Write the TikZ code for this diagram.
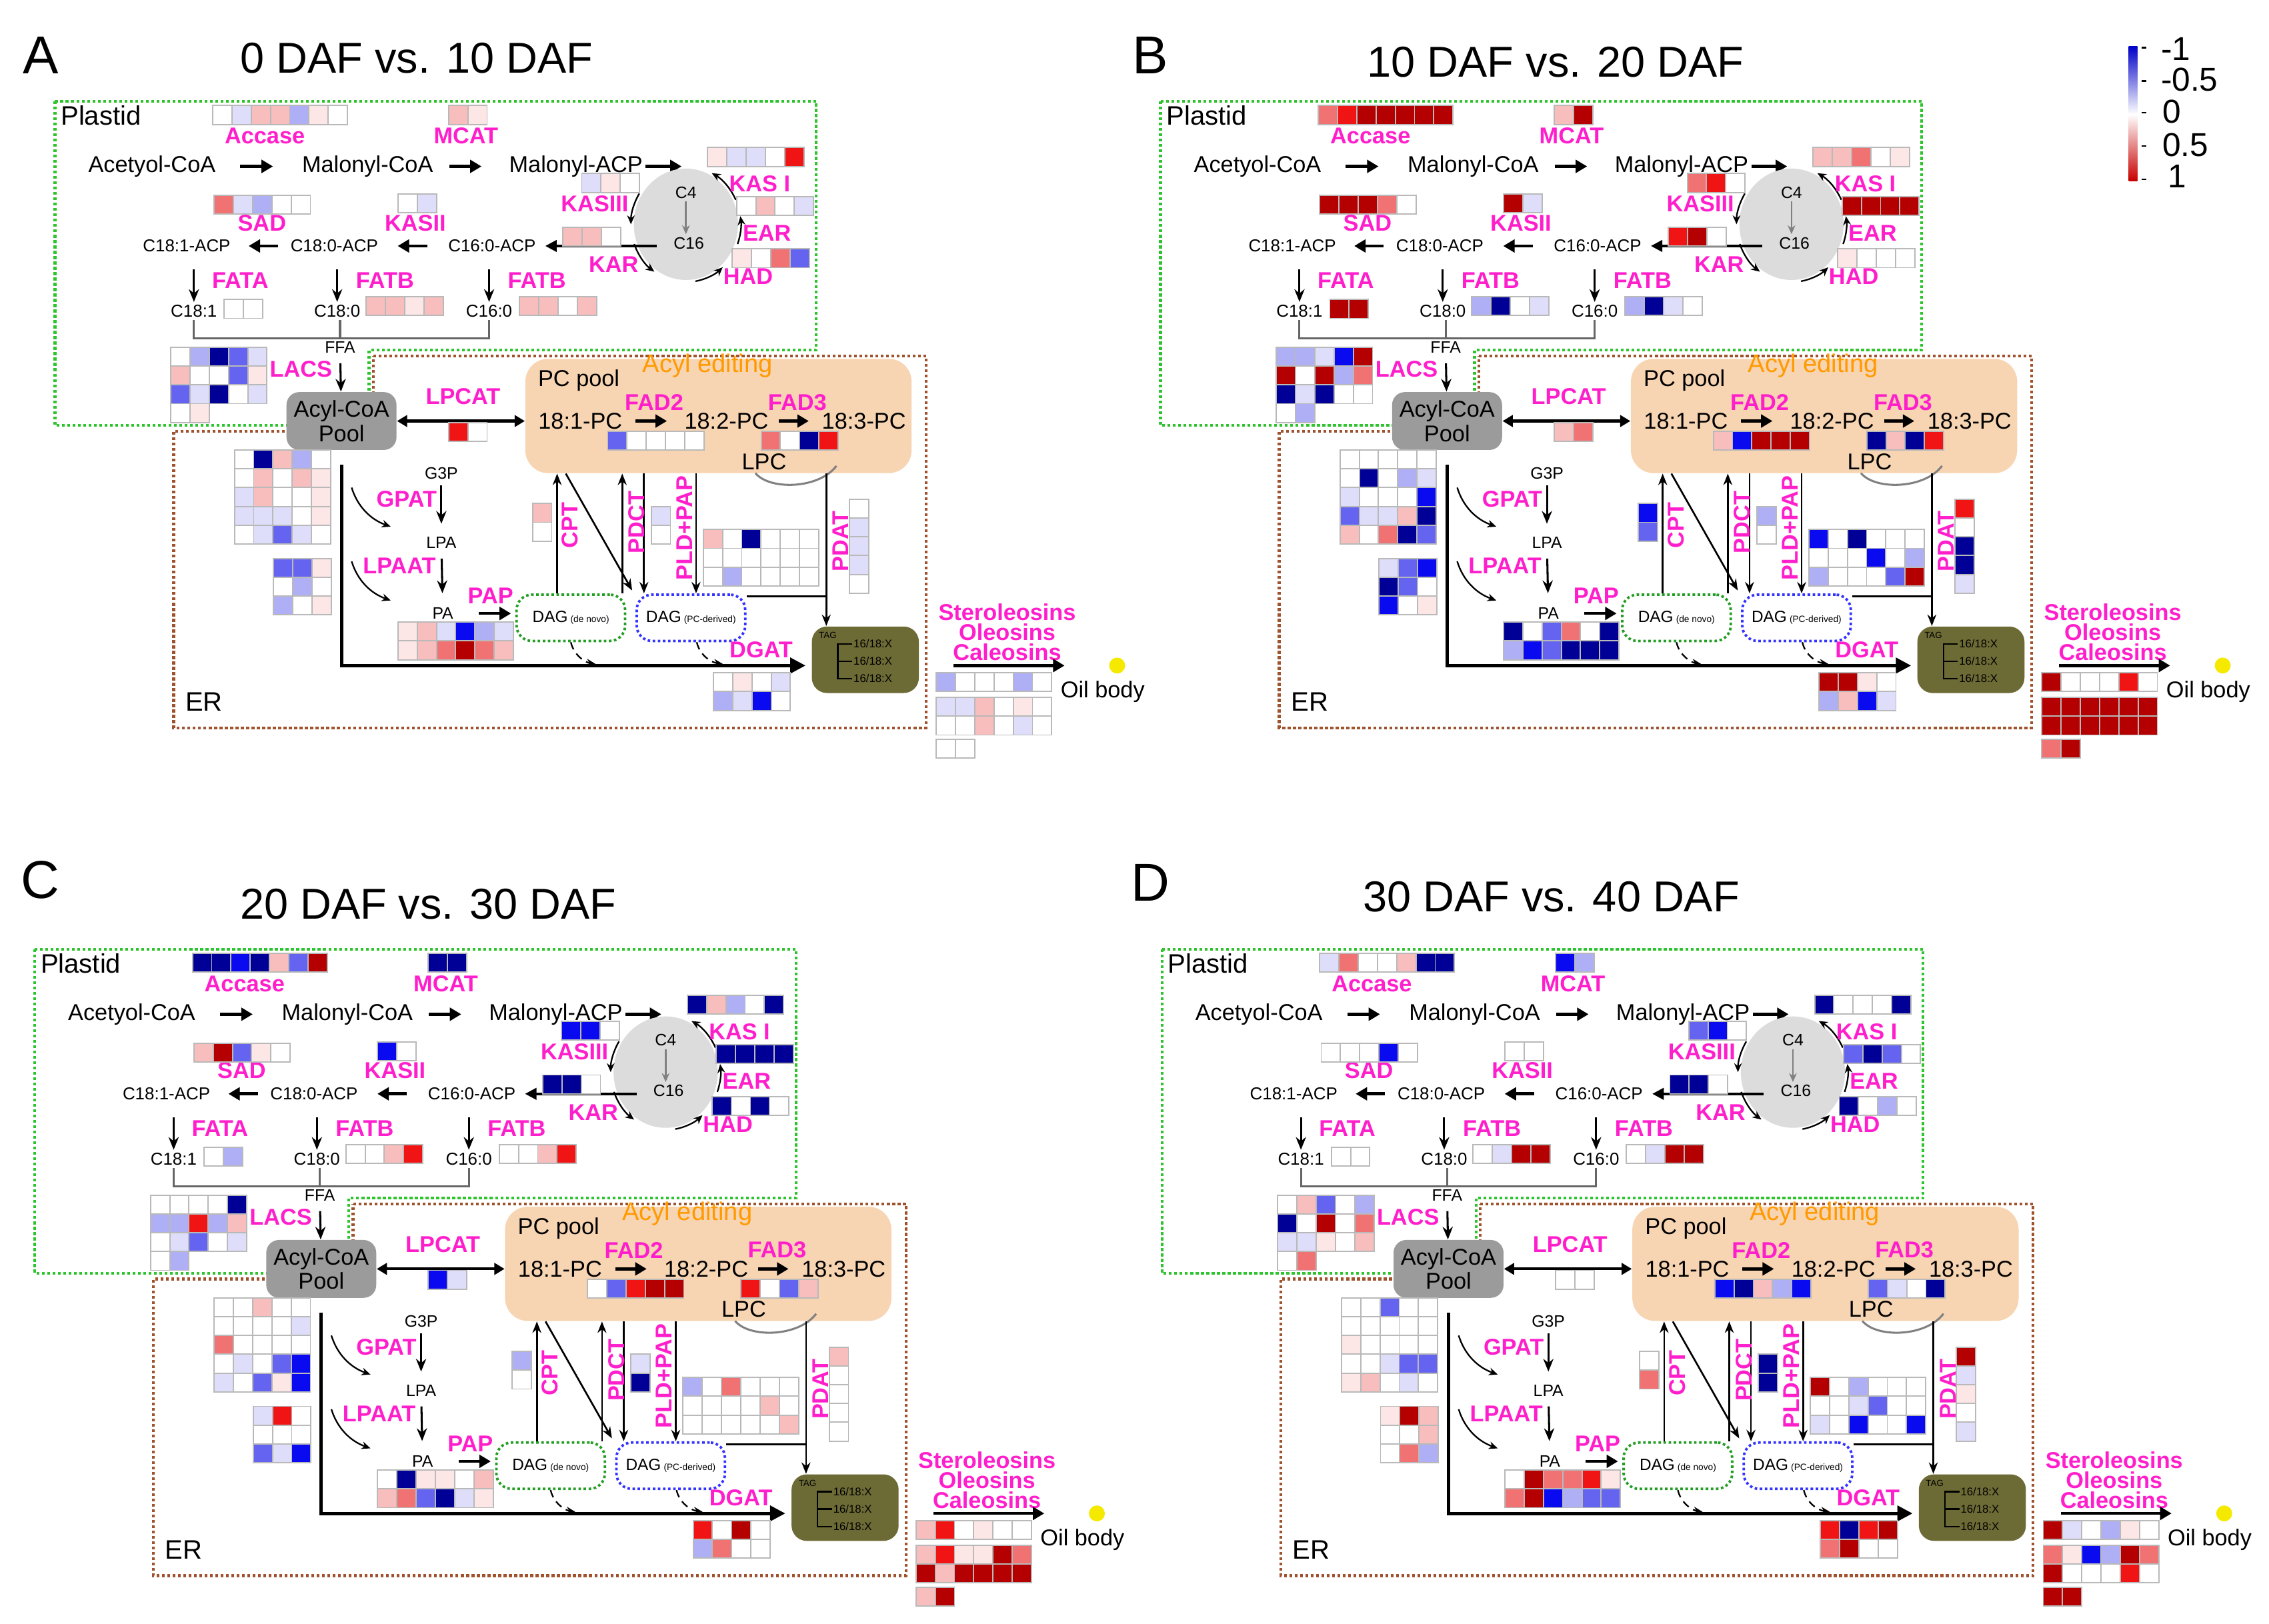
\documentclass[tikz,border=0pt]{standalone}
\usepackage{fontspec}
\setmainfont{Liberation Sans}
\usetikzlibrary{arrows.meta,calc,shapes.geometric}

\definecolor{hN}{HTML}{000096}
\definecolor{hB}{HTML}{0A0AF0}
\definecolor{hM}{HTML}{6464F0}
\definecolor{hL}{HTML}{AFAFF5}
\definecolor{hV}{HTML}{DEDEFA}
\definecolor{hW}{HTML}{FFFFFF}
\definecolor{hv}{HTML}{FCE6E6}
\definecolor{hl}{HTML}{F8BEBE}
\definecolor{hp}{HTML}{F07272}
\definecolor{hr}{HTML}{F01414}
\definecolor{hR}{HTML}{B40000}
\definecolor{mag}{HTML}{FF1ECB}
\definecolor{orng}{HTML}{FF9A00}
\definecolor{grn}{HTML}{2DC42D}
\definecolor{brn}{HTML}{A0522D}
\definecolor{peach}{HTML}{F7D4B2}
\definecolor{olivebox}{HTML}{6D6B35}
\definecolor{poolgray}{HTML}{9B9B9B}
\definecolor{cycgray}{HTML}{DCDCDC}
\definecolor{ylw}{HTML}{F5E900}
\definecolor{legB}{HTML}{0000C8}
\definecolor{legR}{HTML}{C80000}

\newcommand\fsz[1]{\fontsize{#1}{#1}\selectfont}

\tikzset{
  t9/.style={font=\fsz{9}, inner sep=1pt},
  t7/.style={font=\fsz{6.8}, inner sep=1pt},
  t65/.style={font=\fsz{6.5}, inner sep=1pt},
  lab/.style={font=\bfseries\fsz{9}, text=mag, inner sep=1pt},
  arrT/.style={-{Triangle[length=4.5pt,width=5pt]}, line width=1.2pt},
  arrM/.style={-{Triangle[length=4.5pt,width=4.5pt]}, line width=1pt},
  arrD/.style={-{Stealth[length=5pt,width=4pt]}, line width=0.8pt},
  arrV/.style={-{Stealth[length=4.5pt,width=3.5pt]}, line width=0.7pt},
  arrC/.style={-{Stealth[length=3.5pt,width=3pt]}, line width=0.6pt},
  cell/.style={draw=gray!55, line width=0.5pt},
}

\newcommand\hmap[4]{%
  \foreach \hcl [count=\hii from 0] in {#4}{%
    \pgfmathtruncatemacro\hmc{mod(\hii,#3)}%
    \pgfmathtruncatemacro\hmr{(\hii-\hmc)/#3+0.5}%
    \filldraw[cell,fill=h\hcl] ({#1+\hmc*13.3},{#2+\hmr*13}) rectangle ++(13.3,13);
  }%
}
\newcommand\hAcc[1]{\hmap{147}{73}{7}{#1}}
\newcommand\hMCAT[1]{\hmap{310}{73}{2}{#1}}
\newcommand\hKASI[1]{\hmap{489}{102}{5}{#1}}
\newcommand\hKASIII[1]{\hmap{402}{120}{3}{#1}}
\newcommand\hKAR[1]{\hmap{389}{157}{3}{#1}}
\newcommand\hEAR[1]{\hmap{509}{136}{4}{#1}}
\newcommand\hHAD[1]{\hmap{506}{172}{4}{#1}}
\newcommand\hSAD[1]{\hmap{148}{135}{5}{#1}}
\newcommand\hKASII[1]{\hmap{275}{134}{2}{#1}}
\newcommand\hFATA[1]{\hmap{155}{207}{2}{#1}}
\newcommand\hFATBa[1]{\hmap{253}{205}{4}{#1}}
\newcommand\hFATBb[1]{\hmap{359}{205}{4}{#1}}
\newcommand\hLACS[1]{\hmap{118}{240}{5}{#1}}
\newcommand\hLPCAT[1]{\hmap{310}{292}{2}{#1}}
\newcommand\hFADa[1]{\hmap{420}{298}{5}{#1}}
\newcommand\hFADb[1]{\hmap{526}{298}{4}{#1}}
\newcommand\hERa[1]{\hmap{162}{311}{5}{#1}}
\newcommand\hERb[1]{\hmap{189}{386}{3}{#1}}
\newcommand\hPA[1]{\hmap{275}{430}{6}{#1}}
\newcommand\hCPT[1]{\hmap{368}{348}{1}{#1}}
\newcommand\hPDCT[1]{\hmap{450}{350}{1}{#1}}
\newcommand\hPLD[1]{\hmap{486}{366}{6}{#1}}
\newcommand\hPDAT[1]{\hmap{587}{345}{1}{#1}}
\newcommand\hDGAT[1]{\hmap{493}{465}{4}{#1}}
\newcommand\hOleA[1]{\hmap{647}{465}{6}{#1}}
\newcommand\hOleB[1]{\hmap{647}{482}{6}{#1}}
\newcommand\hOleC[1]{\hmap{647}{511}{2}{#1}}

\newcommand\panelbase{%
\draw[grn,line width=1.1pt,densely dotted] (38,70) -- (564,70) -- (564,242) -- (255,242) -- (255,294) -- (38,294) -- cycle;
\draw[brn,line width=1.1pt,densely dotted] (258,246) -- (640,246) -- (640,503) -- (120,503) -- (120,298) -- (258,298) -- cycle;
\node[font=\fsz{10.5},anchor=west,inner sep=1pt] (plastid) at (40,80) {Plastid};
\node[font=\fsz{10.5},inner sep=1pt] (er) at (141,485) {ER};
\node[lab] (lAcc) at (183,94) {Accase};
\node[lab] (lMCAT) at (322,94) {MCAT};
\node[t9] (acet) at (105,115) {Acetyol-CoA};
\node[t9] (malc) at (254,115) {Malonyl-CoA};
\node[t9] (mala) at (398,115) {Malonyl-ACP};
\coordinate (malaEnd) at (471,115);
\draw[arrT,shorten <=3mm,shorten >=3.6mm] (acet) -- (malc);
\draw[arrT,shorten <=1.8mm,shorten >=3.4mm] (malc) -- (mala);
\draw[arrT] (mala) -- (malaEnd);
% cycle
\node[ellipse,fill=cycgray,minimum width=14.4mm,minimum height=15.4mm,inner sep=0pt] (cyc) at (474,155) {};
\node[t65] (c4) at (474,133) {C4};
\node[t65] (c16) at (476,168) {C16};
\draw[gray,-{Stealth[length=3.5pt,width=3pt]},line width=0.7pt] (c4) -- (c4 |- c16.north);
\foreach \sa/\ea in {212/180,160/125,80/48,20/-8,-25/-62}
  \draw[arrC] ($(cyc.center)+(\sa:38 and 40)$) arc[start angle=\sa,end angle=\ea,x radius=38,y radius=40];
\node[lab] (lKASI) at (525,127) {KAS I};
\node[lab] (lKASIII) at (411,141) {KASIII};
\node[lab] (lEAR) at (530,161) {EAR};
\node[lab] (lHAD) at (517,191) {HAD};
\node[lab] (lKAR) at (424,183) {KAR};
\node[lab] (lSAD) at (181,154) {SAD};
\node[lab] (lKASII) at (287,154) {KASII};
% ACP row
\node[t7] (acp16) at (340,170) {C16:0-ACP};
\node[t7] (acp18) at (231,170) {C18:0-ACP};
\node[t7] (acp181) at (129,170) {C18:1-ACP};
\draw[arrM,shorten <=1.9mm,shorten >=0.9mm] (c16.west |- acp16) -- (acp16);
\draw[arrT,shorten <=2.5mm,shorten >=2.3mm] (acp16) -- (acp18);
\draw[arrT,shorten <=1.3mm,shorten >=2.1mm] (acp18) -- (acp181);
% free fatty acids
\node[t7] (c181) at (134,215) {C18:1};
\node[t7] (c180) at (233,215) {C18:0};
\node[t7] (c160) at (338,215) {C16:0};
\draw[arrD,shorten <=2mm] (c181 |- acp181.south) -- (c181);
\draw[arrD,shorten <=2mm] (c180 |- acp18.south) -- (c180);
\draw[arrD,shorten <=2mm] (c160 |- acp16.south) -- (c160);
\node[lab] (lFATA) at (166,194) {FATA};
\node[lab] (lFATB1) at (266,194) {FATB};
\node[lab] (lFATB2) at (371,194) {FATB};
\node[t65] (ffa) at (235,240) {FFA};
\draw[gray!80!black,line width=0.8pt] (c181.south) -- (c181 |- ffa.north) -- (c160 |- ffa.north) -- (c160.south);
\draw[gray!80!black,line width=0.8pt] (ffa.north) -- (ffa.north |- c181.south);
\node[lab] (lLACS) at (208,255) {LACS};
% pools
\node[fill=poolgray,rounded corners=5pt,minimum width=15.2mm,minimum height=8mm,inner sep=0pt,align=center,font=\fontsize{9}{9.6}\selectfont] (pool) at (236,291) {Acyl-CoA\\Pool};
\draw[arrD,shorten <=1mm] (ffa) -- (pool);
\node[fill=peach,rounded corners=9pt,minimum width=53.4mm,minimum height=15.8mm,inner sep=0pt] (pc) at (496.5,287.5) {};
\draw[{Triangle[length=4pt,width=4.5pt]}-{Triangle[length=4pt,width=4.5pt]},line width=1.1pt] (pool.east) -- (pool.east -| pc.west);
\node[lab] (lLPCAT) at (320,274) {LPCAT};
\node[font=\fsz{10},text=orng,inner sep=1pt] (acyled) at (489,253) {Acyl editing};
\node[t9] (pcpool) at (400,263) {PC pool};
\node[lab] (lFAD2) at (452,278) {FAD2};
\node[lab] (lFAD3) at (551,278) {FAD3};
\node[t9] (pc181) at (401,291) {18:1-PC};
\node[t9] (pc182) at (502,291) {18:2-PC};
\node[t9] (pc183) at (597,291) {18:3-PC};
\draw[arrT,shorten <=1.4mm,shorten >=2mm] (pc181) -- (pc182);
\draw[arrT,shorten <=1mm,shorten >=1.4mm] (pc182) -- (pc183);
\node[t9] (lpc) at (528,319) {LPC};
\draw[gray,line width=0.8pt] (522,327) .. controls (532,339) and (566,338) .. (578,322);
% ER: Kennedy pathway
\node[fill=olivebox,rounded corners=6pt,minimum width=14.8mm,minimum height=9.2mm,inner sep=0pt] (tag) at (598,456) {};
\draw[-{Triangle[length=6pt,width=6pt]},line width=1.3pt] ($(pool.south)+(0,10)$) |- ($(tag.west)+(-4,4)$);
\node[t65] (g3p) at (305,327) {G3P};
\node[t65] (lpa) at (305,375) {LPA};
\node[t65] (pa) at (306,424) {PA};
\draw[arrD,shorten <=0.5mm,shorten >=1.4mm] (g3p) -- (lpa);
\draw[arrD,shorten <=1mm,shorten >=1.6mm] (lpa) -- (pa);
\node[lab] (lGPAT) at (281,345) {GPAT};
\node[lab] (lLPAAT) at (276,391) {LPAAT};
\node[lab] (lPAP) at (339,412) {PAP};
\draw[arrC] (243,337) .. controls (247,350) and (256,359) .. (270,364);
\draw[arrC] (243,388) .. controls (247,401) and (256,410) .. (270,415);
\node[draw=grn!80!black,densely dotted,line width=1pt,rounded corners=6pt,minimum width=15mm,minimum height=6.4mm,inner sep=0pt] (dagA) at (394.5,427) {\fsz{6.4}DAG\,{\fsz{3.6}(de novo)}};
\node[draw=blue!80,densely dotted,line width=1pt,rounded corners=6pt,minimum width=15mm,minimum height=6.4mm,inner sep=0pt] (dagB) at (477.5,427) {\fsz{6.4}DAG\,{\fsz{3.6}(PC-derived)}};
\draw[arrT,shorten <=3.1mm,shorten >=0.6mm] (pa) -- (pa -| dagA.west);
\coordinate (xcpt) at (385,0);
\coordinate (xdia) at (391,0);
\coordinate (xpdu) at (430,0);
\coordinate (xpdd) at (445,0);
\coordinate (xpld) at (481,0);
\coordinate (xpdat) at (571,0);
\draw[arrV] (xcpt |- dagA.north) -- (xcpt |- pc.south);
\draw[arrV] (xdia |- pc.south) -- ($(dagA.north east)+(4,-2)$);
\draw[arrV] (xpdu |- dagA.north) -- (xpdu |- pc.south);
\draw[arrV] (xpdd |- pc.south) -- (xpdd |- dagB.north);
\draw[arrV] (xpld |- pc.south) -- (xpld |- dagB.north);
\draw[arrV] (xpdat |- pc.south) -- (xpdat |- tag.north);
\draw[line width=0.7pt] ($(dagB.north east)+(0,2)$) -- ($(xpdat |- dagB.north east)+(0,2)$);
\node[lab,rotate=90] (lCPT) at (394,363) {CPT};
\node[lab,rotate=90] (lPDCT) at (440,361) {PDCT};
\node[lab,rotate=90] (lPLD) at (473,365) {PLD+PAP};
\node[lab,rotate=90] (lPDAT) at (581,374) {PDAT};
\draw[arrC,densely dashed] (dagA.south) .. controls ($(dagA.south)+(2,9)$) and ($(dagA.south)+(10,14)$) .. ($(dagA.south)+(17,15)$);
\draw[arrC,densely dashed] ($(dagB.south)+(4,0)$) .. controls ($(dagB.south)+(6,9)$) and ($(dagB.south)+(14,14)$) .. ($(dagB.south)+(22,15)$);
\node[lab] (lDGAT) at (526,449) {DGAT};
\node[font=\fsz{3.5},inner sep=0pt] (tagtxt) at (572,439) {TAG};
\draw[line width=0.6pt] (589,445) -- (579,445) -- (579,469) -- (589,469) (579,457) -- (589,457);
\foreach \yy in {445,457,469} \node[font=\fsz{4.4},anchor=west,inner sep=0.3pt] at (589,\yy) {16/18:X};
% oil body
\node[lab,align=center,font=\bfseries\fontsize{9}{7.9}\selectfont] (oleo) at (696,437) {Steroleosins\\Oleosins\\Caleosins};
\node[circle,fill=ylw,minimum size=2.2mm,inner sep=0pt] (dot) at (772,460) {};
\coordinate (obS) at (659,460);
\draw[arrT,shorten >=6.1mm] (obS) -- (dot);
\node[t9] (oil) at (762,478) {Oil body};
}

\begin{document}
\begin{tikzpicture}[x=0.02cm,y=-0.02cm]
\fill[white] (0,0) rectangle (1568,1122);
\useasboundingbox (0,0) rectangle (1568,1122);

% titles
\node[font=\fsz{21}] (pA) at (28,38) {A};
\node[font=\fsz{17}] (tA) at (288,40) {0 DAF vs. 10 DAF};
\node[font=\fsz{21}] (pB) at (795,38) {B};
\node[font=\fsz{17}] (tB) at (1075,43) {10 DAF vs. 20 DAF};
\node[font=\fsz{21}] (pC) at (28,608) {C};
\node[font=\fsz{17}] (tC) at (296,625) {20 DAF vs. 30 DAF};
\node[font=\fsz{21}] (pD) at (795,610) {D};
\node[font=\fsz{17}] (tD) at (1072,620) {30 DAF vs. 40 DAF};

% legend
\shade[top color=legB,bottom color=white] (1471,32) rectangle (1477,79);
\shade[top color=white,bottom color=legR] (1471,79) rectangle (1477,125);
\foreach \yy in {33,56,78,101,124} \draw[line width=0.6pt] (1480,\yy) -- (1483,\yy);
\node[font=\fsz{13},anchor=west,inner sep=0pt] (lg1) at (1493,34) {-1};
\node[font=\fsz{13},anchor=west,inner sep=0pt] (lg2) at (1493,55) {-0.5};
\node[font=\fsz{13},anchor=west,inner sep=0pt] (lg3) at (1494,77) {0};
\node[font=\fsz{13},anchor=west,inner sep=0pt] (lg4) at (1494,100) {0.5};
\node[font=\fsz{13},anchor=west,inner sep=0pt] (lg5) at (1498,122) {1};

% Panel A
\begin{scope}[name prefix=A-]
\panelbase
\hAcc{W,V,l,l,L,v,W}
\hMCAT{l,v}
\hKASI{v,V,V,W,r}
\hKASIII{V,v,W}
\hKAR{l,l,W}
\hEAR{W,l,W,V}
\hHAD{v,W,p,M}
\hSAD{p,V,L,W,W}
\hKASII{W,V}
\hFATA{W,W}
\hFATBa{l,l,v,l}
\hFATBb{l,l,W,l}
\hLACS{W,L,N,M,V,l,W,W,M,v,M,V,N,W,V,W,v}
\hLPCAT{r,W}
\hFADa{M,W,W,W,W}
\hFADb{p,W,N,r}
\hERa{W,N,l,L,W,W,l,W,l,v,V,l,W,W,v,V,V,V,W,v,W,V,M,V,W}
\hERb{M,M,v,W,L,W,L,W,v}
\hPA{v,l,V,B,L,V,v,l,p,R,p,l}
\hCPT{l,W}
\hPDCT{V,W}
\hPLD{l,W,N,W,W,W,W,W,W,W,W,W,W,L,W,W,W,W}
\hPDAT{W,V,V,V,W}
\hDGAT{W,v,W,V,L,V,B,W}
\hOleA{L,W,W,W,L,W}
\hOleB{V,V,l,W,v,W,W,W,l,W,V,W}
\hOleC{W,W}
\end{scope}

% Panel B
\begin{scope}[shift={(764,0)},name prefix=B-]
\panelbase
\hAcc{p,r,R,R,R,R,R}
\hMCAT{l,R}
\hKASI{l,l,p,W,v}
\hKASIII{p,r,W}
\hKAR{r,R,W}
\hEAR{R,R,R,R}
\hHAD{v,W,W,W}
\hSAD{R,R,R,p,W}
\hKASII{R,V}
\hFATA{R,R}
\hFATBa{L,N,W,V}
\hFATBb{L,N,V,W}
\hLACS{L,L,V,B,R,R,W,R,L,p,N,V,N,W,W,W,L}
\hLPCAT{l,p}
\hFADa{l,B,R,R,R}
\hFADb{N,l,N,r}
\hERa{W,W,W,W,W,W,N,W,L,V,V,W,W,W,B,M,V,V,l,N,l,W,p,N,M}
\hERb{V,M,B,N,M,W,B,W,v}
\hPA{N,W,M,p,W,N,L,B,M,N,N,N}
\hCPT{B,M}
\hPDCT{L,W}
\hPLD{B,W,N,W,W,W,W,W,W,B,W,L,L,W,W,W,M,R}
\hPDAT{r,W,N,N,V}
\hDGAT{R,R,v,W,L,l,B,V}
\hOleA{R,W,W,W,r,W}
\hOleB{R,R,R,R,R,R,R,R,R,R,R,R}
\hOleC{p,R}
\end{scope}

% Panel C
\begin{scope}[shift={(-14,586)},name prefix=C-]
\panelbase
\hAcc{N,N,B,N,l,M,R}
\hMCAT{N,N}
\hKASI{N,l,L,W,N}
\hKASIII{B,B,W}
\hKAR{N,N,W}
\hEAR{N,N,N,N}
\hHAD{N,W,N,W}
\hSAD{l,R,M,v,W}
\hKASII{B,W}
\hFATA{W,L}
\hFATBa{W,W,l,r}
\hFATBb{W,W,l,r}
\hLACS{W,W,W,W,N,L,L,r,L,l,W,V,M,W,V,W,L}
\hLPCAT{B,V}
\hFADa{W,M,r,R,R}
\hFADb{r,W,M,l}
\hERa{W,W,l,W,W,W,W,W,W,V,p,W,W,W,W,W,V,W,M,B,V,W,M,v,B}
\hERb{V,r,W,W,W,W,M,V,B}
\hPA{W,N,v,v,W,l,l,p,M,N,V,v}
\hCPT{L,W}
\hPDCT{V,N}
\hPLD{L,W,p,W,W,W,W,W,W,W,l,W,W,W,W,W,W,l}
\hPDAT{l,W,W,W,W}
\hDGAT{r,W,R,W,L,p,W,W}
\hOleA{l,r,W,v,W,W}
\hOleB{l,r,v,v,R,p,R,l,R,R,R,R}
\hOleC{l,R}
\end{scope}

% Panel D
\begin{scope}[shift={(765,586)},name prefix=D-]
\panelbase
\hAcc{V,p,W,W,l,N,N}
\hMCAT{B,L}
\hKASI{N,W,W,W,N}
\hKASIII{M,B,W}
\hKAR{N,N,W}
\hEAR{M,N,M,W}
\hHAD{N,W,L,W}
\hSAD{W,W,W,B,W}
\hKASII{W,W}
\hFATA{W,W}
\hFATBa{W,V,R,R}
\hFATBb{W,V,R,R}
\hLACS{W,l,M,W,L,N,W,R,W,p,V,V,v,W,l,W,p}
\hLPCAT{W,W}
\hFADa{B,N,l,L,B}
\hFADb{M,V,W,N}
\hERa{W,W,M,W,W,W,W,W,W,W,v,W,W,W,W,W,W,V,M,M,v,l,W,V,W}
\hERb{v,R,l,W,W,l,W,p,L}
\hPA{W,R,p,p,r,v,p,R,B,L,M,M}
\hCPT{W,p}
\hPDCT{N,N}
\hPLD{R,W,L,W,W,W,W,W,V,M,W,W,V,W,B,W,W,B}
\hPDAT{R,V,v,W,V}
\hDGAT{r,N,r,R,p,R,W,W}
\hOleA{R,V,W,L,v,W}
\hOleB{p,v,B,L,R,p,R,W,W,W,r,W}
\hOleC{R,R}
\end{scope}
\end{tikzpicture}
\end{document}
